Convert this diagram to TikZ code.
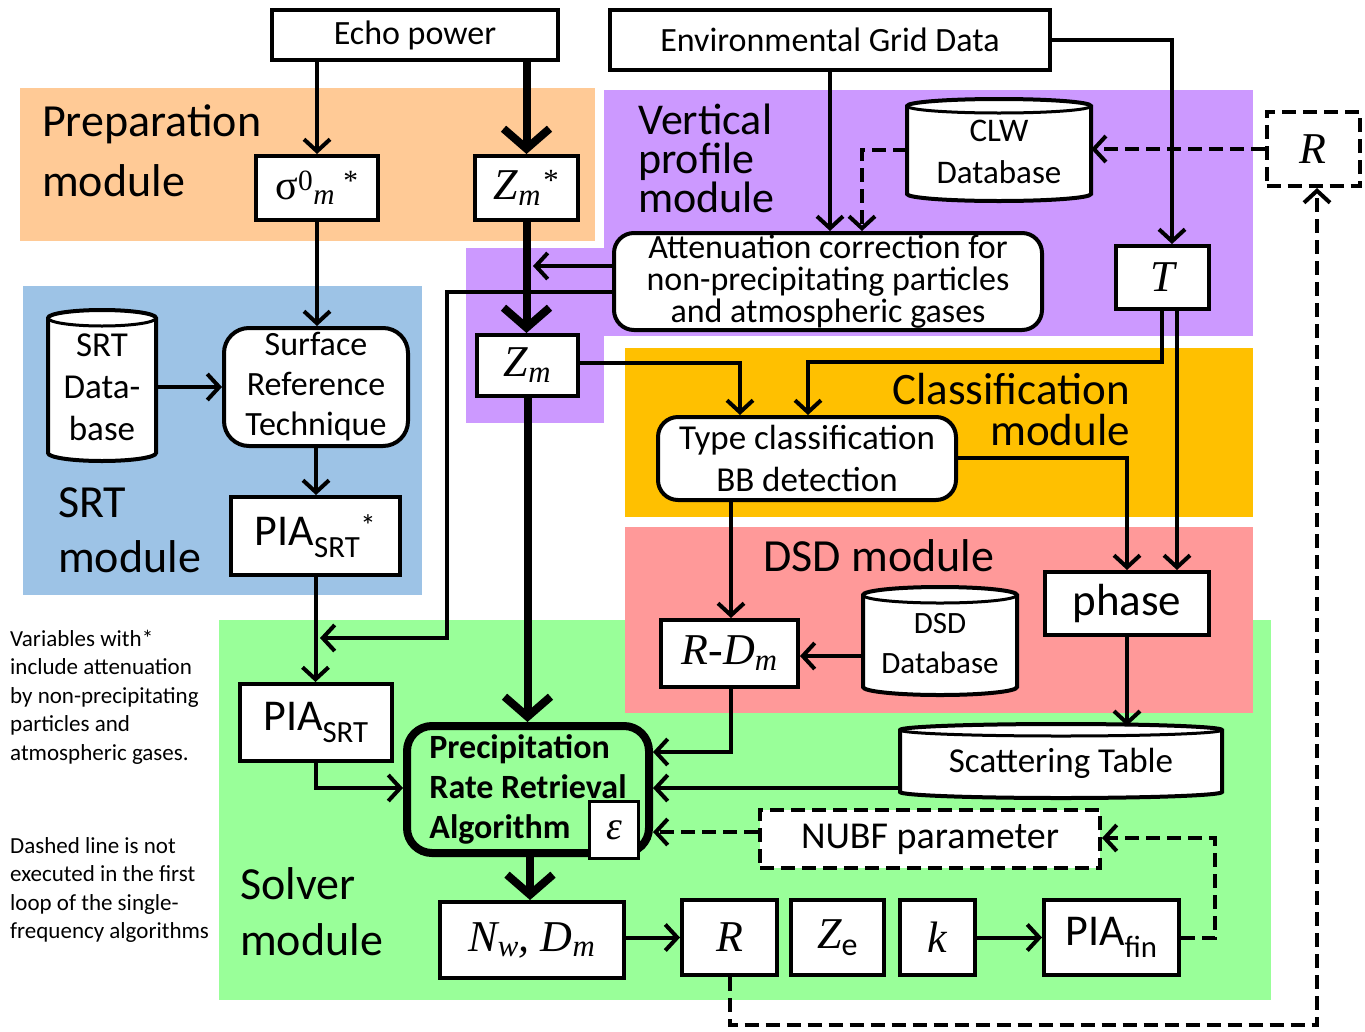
\documentclass[tikz,border=0pt]{standalone}
\usepackage{fontspec}
\setmainfont{Carlito}
\newfontfamily\tms{Liberation Serif}
\usetikzlibrary{arrows.meta}
\definecolor{cprep}{RGB}{255,202,150}
\definecolor{cvert}{RGB}{204,153,255}
\definecolor{csrt}{RGB}{157,195,230}
\definecolor{cclass}{RGB}{255,192,0}
\definecolor{cdsd}{RGB}{255,153,153}
\definecolor{csolv}{RGB}{153,255,153}
\newcommand{\fs}[2]{\fontsize{#1}{#2}\selectfont}
\newcommand{\cylshape}[5]{%
  \filldraw[fill=white, line width=4pt] (#1,-#2-#5) -- (#1,-#4+#5)
    arc[start angle=180, end angle=360, x radius={(#3-#1)/2}, y radius=#5]
    -- (#3,-#2-#5)
    arc[start angle=0, end angle=180, x radius={(#3-#1)/2}, y radius=#5] -- cycle;
  \draw[line width=3pt] (#1,-#2-#5)
    arc[start angle=180, end angle=360, x radius={(#3-#1)/2}, y radius=#5];}
\begin{document}
\begin{tikzpicture}[x=1pt, y=1pt,
  wh/.style 2 args={minimum width=#1pt, minimum height=#2pt},
  box/.style={draw, line width=4pt, fill=white, inner sep=0pt, align=center, font=\fs{34}{40}},
  rbox/.style={box, rounded corners=20pt},
  dbox/.style={box, dash pattern=on 14pt off 7pt},
  cyl/.style={inner sep=0pt, align=center},
  lab/.style={inner sep=0pt, align=left, anchor=west, font=\fs{46}{52}},
  note/.style={inner sep=0pt, align=left, anchor=west, font=\fs{23}{28.5}},
  mth/.style={font=\tms\itshape\fs{44}{48}},
  arr/.style={line width=4pt, -{Straight Barb[length=12pt, width=26pt]}},
  darr/.style={arr, dash pattern=on 14pt off 7pt},
  barr/.style={line width=8pt, -{Straight Barb[length=20pt, width=46pt]}}]
\useasboundingbox (0,0) rectangle (1365,-1031);
% module regions
\fill[cprep] (20,-88) rectangle (595,-241);
\fill[cvert] (604,-90) rectangle (1253,-336);
\fill[cvert] (466,-248) rectangle (604,-423);
\fill[csrt] (23,-286) rectangle (422,-595);
\fill[cclass] (625,-348) rectangle (1253,-517);
\fill[csolv] (219,-620) rectangle (1271,-1000);
\fill[cdsd] (625,-527) rectangle (1253,-713);
% module labels
\node[lab, font=\fs{46}{60}] (lprep) at (42,-151) {Preparation\\module};
\node[lab, font=\fs{44}{39}] (lvert) at (638,-158) {Vertical\\profile\\module};
\node[lab, font=\fs{46}{55}] (lsrt) at (58,-530) {SRT\\module};
\node[lab, anchor=east, align=right, font=\fs{45}{41}] (lclass) at (1130,-410) {Classification\\module};
\node[lab] (ldsd) at (763,-556) {DSD module};
\node[lab, font=\fs{46}{56}] (lsolv) at (240,-912) {Solver\\module};
\node[note] (note1) at (10,-697) {Variables with*\\include attenuation\\by non-precipitating\\particles and\\atmospheric gases.};
\node[note] (note2) at (10,-890) {Dashed line is not\\executed in the first\\loop of the single-\\frequency algorithms};
% cylinders
\cylshape{907}{99}{1091}{201}{7}
\node[cyl, wh={184}{102}, font=\fs{33}{42}] (clw) at (999,-152) {CLW\\Database};
\cylshape{48}{310}{156}{461}{8}
\node[cyl, wh={108}{151}, font=\fs{35}{42}] (srtdb) at (102,-387) {SRT\\Data-\\base};
\cylshape{863}{587}{1017}{695}{8}
\node[cyl, wh={154}{108}, font=\fs{31}{40}] (dsddb) at (940,-644) {DSD\\Database};
\cylshape{900}{724}{1222}{798}{6}
\node[cyl, wh={322}{74}, font=\fs{35}{40}] (scat) at (1061,-763) {Scattering Table};
% boxes
\node[box, wh={286}{50}] (echo) at (415,-35) {Echo power};
\node[box, wh={440}{60}] (env) at (830,-40) {Environmental Grid Data};
\node[box, wh={122}{64}, font=\tms\fs{42}{48}] (sig) at (317,-188) {σ\textsuperscript{0}\textsubscript{\itshape m}\kern.2em\textsuperscript{*}};
\node[box, wh={103}{64}, mth] (zms) at (526.5,-188) {Z\textsubscript{m}\kern.05em\textsuperscript{\upshape *}};
\node[dbox, wh={93}{74}, mth] (rdash) at (1313,-149) {R};
\node[rbox, wh={428}{97}, font=\fs{34}{32}] (att) at (828,-281.5) {Attenuation correction for\\non-precipitating particles\\and atmospheric gases};
\node[box, wh={93}{63}, mth] (T) at (1162.5,-277.5) {T};
\node[box, wh={101}{61}, mth] (zm) at (527.5,-365.5) {Z\textsubscript{m}};
\node[box, wh={184}{118}, rounded corners=25pt, font=\fs{34}{40}] (srt) at (316,-387) {Surface\\Reference\\Technique};
\node[box, wh={169}{78}, font=\fs{44}{46}] (piasrts) at (315.5,-536) {PIA\textsubscript{SRT}\textsuperscript{*}};
\node[rbox, wh={298}{83}, font=\fs{35}{42}] (type) at (807,-458.5) {Type classification\\BB detection};
\node[box, wh={164}{63}, font=\fs{45}{46}] (phase) at (1127,-603.5) {phase};
\node[box, wh={137}{67}, mth] (rdm) at (729.5,-653.5) {R-D\textsubscript{m}};
\node[box, wh={152}{77}, font=\fs{44}{46}] (piasrt) at (316,-722.5) {PIA\textsubscript{SRT}};
\node[box, wh={242}{127}, line width=8pt, rounded corners=25pt, fill=csolv, align=left, font=\bfseries\fs{34}{40}] (prra) at (528,-789.5) {Precipitation\\Rate Retrieval\\Algorithm};
\node[box, wh={49}{57}, line width=3.5pt, font=\tms\itshape\fs{40}{44}] (eps) at (614,-830) {ε};
\node[dbox, wh={340}{58}, font=\fs{38}{42}] (nubf) at (930,-839) {NUBF parameter};
\node[box, wh={184}{76}, mth] (nwdm) at (532,-940) {N\textsubscript{w}, D\textsubscript{m}};
\node[box, wh={95}{75}, mth] (r) at (729.5,-937.5) {R};
\node[box, wh={93}{75}, mth] (ze) at (837.5,-937.5) {Z\textsubscript{\normalfont\fs{32}{32}e}};
\node[box, wh={75}{75}, mth] (k) at (937.5,-937.5) {k};
\node[box, wh={135}{75}, font=\fs{44}{46}] (piafin) at (1111.5,-937.5) {PIA\textsubscript{fin}};
% helper coordinates
\coordinate (e1) at (533,-266);
\coordinate (f1) at (447,-292);
\coordinate (f2) at (447,-638);
\coordinate (f3) at (320,-638);
\coordinate (h1) at (862,-150);
\coordinate (i1) at (1172,-40);
\coordinate (k1) at (1162,-362);
\coordinate (k2) at (808,-362);
\coordinate (l1) at (1177,0);
\coordinate (m1) at (740,-363);
\coordinate (n1) at (1127,-458);
\coordinate (o1) at (731,0);
\coordinate (p1) at (0,-656);
\coordinate (r1) at (731,-752);
\coordinate (s1) at (0,-788);
\coordinate (t1) at (0,-832);
\coordinate (u1) at (1215,-838);
\coordinate (v1) at (1317,-1025);
\coordinate (d1) at (316,-788);
\coordinate (w1) at (530,0);
% connectors
\draw[arr] (echo.south -| sig.north) -- (sig.north);
\draw[barr] (echo.south -| zms.north) -- (zms.north);
\draw[arr] (sig.south) -- (sig.south |- srt.north);
\draw[barr] (zms.south) -- (zms.south |- zm.north);
\draw[arr] (att.west |- e1) -- (e1);
\draw[arr] (att.west |- f1) -- (f1) -- (f2) -- (f3);
\draw[arr] (env.south) -- (env.south |- att.north);
\draw[darr] (clw.west |- h1) -- (h1) -- (h1 |- att.north);
\draw[arr] (env.east) -- (i1) -- (i1 |- T.north);
\draw[darr] (rdash.west) -- (clw.east |- rdash.west);
\draw[arr] (k1 |- T.south) -- (k1) -- (k2) -- (k2 |- type.north);
\draw[arr] (l1 |- T.south) -- (l1 |- phase.north);
\draw[arr] (zm.east |- m1) -- (m1) -- (m1 |- type.north);
\draw[arr] (type.east |- n1) -- (n1) -- (n1 |- phase.north);
\draw[arr] (o1 |- type.south) -- (o1 |- rdm.north);
\draw[arr] (dsddb.west |- p1) -- (rdm.east |- p1);
\draw[arr] (phase.south) -- (phase.south |- scat.north);
\draw[arr] (o1 |- rdm.south) -- (r1) -- (prra.east |- r1);
\draw[arr] (scat.west |- s1) -- (prra.east |- s1);
\draw[darr] (nubf.west |- t1) -- (prra.east |- t1);
\draw[darr] (piafin.east) -- (u1 |- piafin.east) -- (u1) -- (nubf.east |- u1);
\draw[darr] (r.south) -- (r.south |- v1) -- (v1) -- (v1 |- rdash.south);
\draw[barr] (zm.south) -- (zm.south |- prra.north);
\draw[barr] (w1 |- prra.south) -- (w1 |- nwdm.north);
\draw[arr] (nwdm.east |- r.west) -- (r.west);
\draw[arr] (k.east) -- (piafin.west);
\draw[arr] (srtdb.east |- srt.west) -- (srt.west);
\draw[arr] (srt.south) -- (srt.south |- piasrts.north);
\draw[arr] (piasrts.south) -- (piasrts.south |- piasrt.north);
\draw[arr] (piasrt.south) -- (piasrt.south |- d1) -- (prra.west |- d1);
\end{tikzpicture}
\end{document}
